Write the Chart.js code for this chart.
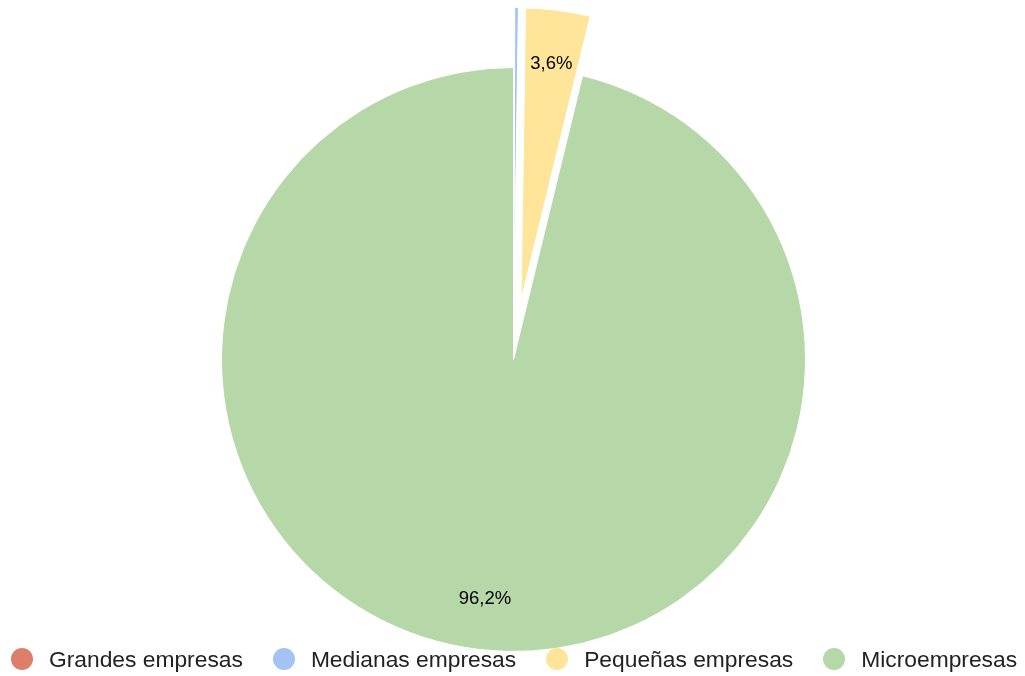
<!DOCTYPE html>
<html>
<head>
<meta charset="utf-8">
<script src="https://cdn.jsdelivr.net/npm/chart.js@4"></script>
<style>
  html, body { margin: 0; padding: 0; background: #fff; }
  #wrap { position: relative; width: 1025px; height: 676px; overflow: hidden; }
  #myChart { position: absolute; left: 0; top: 0; }
  #legend {
    position: absolute; left: 11px; top: 648px;
    display: flex; gap: 30px;
    font-family: "Liberation Sans", Arial, sans-serif;
    font-size: 22.8px; line-height: 22.8px; color: #222;
    white-space: nowrap;
  }
  .item { display: flex; align-items: center; }
  .dot { width: 22px; height: 22px; border-radius: 50%; margin-right: 16px; }
</style>
</head>
<body>
<div id="wrap">
  <canvas id="myChart" width="1025" height="676"></canvas>
  <div id="legend"></div>
</div>
<script>
const categories = ['Grandes empresas', 'Medianas empresas', 'Pequeñas empresas', 'Microempresas'];
const shares = [0.04, 0.2, 3.56, 96.2];

// style
const sliceColors = ['#dd7e6b', '#a4c2f4', '#ffe599', '#b6d7a8'];
const explodedSlices = [0, 1, 2];
const EXPLODE_PX = 60;

// legend en HTML
const legend = document.getElementById('legend');
categories.forEach((name, i) => {
    const item = document.createElement('div');
    item.className = 'item';
    const dot = document.createElement('span');
    dot.className = 'dot';
    dot.style.background = sliceColors[i];
    const label = document.createElement('span');
    label.textContent = name;
    item.appendChild(dot);
    item.appendChild(label);
    legend.appendChild(item);
});

// sépare les petites parts du reste du camembert, puis écrit les pourcentages
const explodeAndLabels = {
    id: 'explodeAndLabels',
    beforeDatasetDraw(chart, args) {
        const ctx = chart.ctx;
        args.meta.data.forEach((arc, i) => {
            const mid = (arc.startAngle + arc.endAngle) / 2;
            const d = explodedSlices.includes(i) ? EXPLODE_PX : 0;
            ctx.save();
            ctx.translate(Math.cos(mid) * d, Math.sin(mid) * d);
            arc.draw(ctx, chart.chartArea);
            ctx.restore();
        });
        return false;
    },
    afterDraw(chart) {
        const ctx = chart.ctx;
        const meta = chart.getDatasetMeta(0);
        const total = shares.reduce((a, b) => a + b, 0);
        ctx.save();
        ctx.font = '18.5px "Liberation Sans", Arial, sans-serif';
        ctx.fillStyle = '#000';
        ctx.textAlign = 'center';
        ctx.textBaseline = 'middle';
        meta.data.forEach((arc, i) => {
            const pct = shares[i] / total * 100;
            if (pct < 1) return;
            const mid = (arc.startAngle + arc.endAngle) / 2;
            const d = (explodedSlices.includes(i) ? EXPLODE_PX : 0) + arc.outerRadius * 0.82;
            const txt = pct.toFixed(1).replace('.', ',') + '%';
            ctx.fillText(txt, arc.x + Math.cos(mid) * d, arc.y + Math.sin(mid) * d + 1.5);
        });
        ctx.restore();
    }
};

const ctx = document.getElementById('myChart').getContext('2d');

let chart = new Chart(ctx, {
    type: 'pie',
    data: {
        labels: categories,
        datasets: [{
            data: shares,
            backgroundColor: sliceColors,
            borderColor: '#fff',
            borderWidth: 1,
            hoverOffset: 0,
            offset: 0
        }]
    },
    options: {
        responsive: false,
        animation: false,
        layout: { padding: { left: 2, right: 0, top: 67, bottom: 24 } },
        plugins: {
            legend: { display: false },
            tooltip: { enabled: false }
        }
    },
    plugins: [explodeAndLabels]
});
</script>
</body>
</html>
